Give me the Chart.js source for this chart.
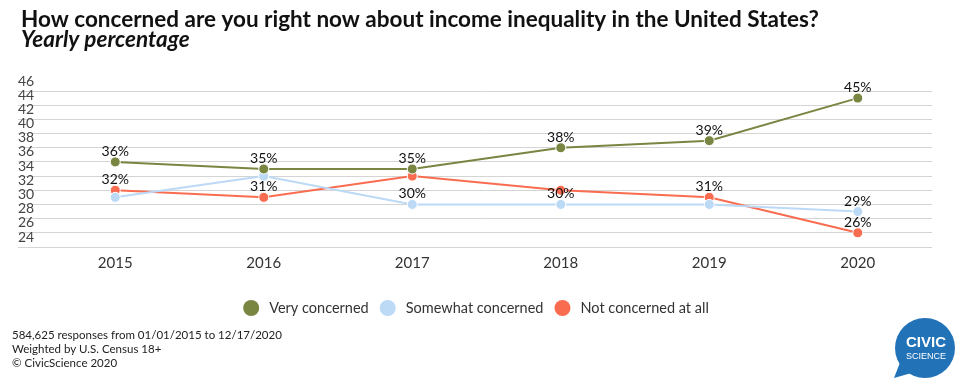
<!DOCTYPE html>
<html>
<head>
<meta charset="utf-8">
<script src="https://cdn.jsdelivr.net/npm/chart.js@4.4.0/dist/chart.umd.min.js"></script>
<style>
  html, body { margin: 0; padding: 0; background: #fff; }
  #wrap { width: 962px; height: 389px; position: relative; }
</style>
</head>
<body>
<div id="wrap"><canvas id="chart" width="962" height="389"></canvas></div>
<script>
const years = ['2015', '2016', '2017', '2018', '2019', '2020'];
const veryConcerned = [36, 35, 35, 38, 39, 45];
const somewhatConcerned = [31, 34, 30, 30, 30, 29];
const notConcerned = [32, 31, 34, 32, 31, 26];
const yMin = 24;
const yMax = 46;
const yStep = 2;

// labels the original hid where they collided
const hiddenLabels = {
    'Somewhat concerned': ['2015', '2016', '2019'],
    'Not concerned at all': ['2017', '2018']
};

const titleText = 'How concerned are you right now about income inequality in the United States?';
const subtitleText = 'Yearly percentage';
const footerLines = [
    '584,625 responses from 01/01/2015 to 12/17/2020',
    'Weighted by U.S. Census 18+',
    '\u00A9 CivicScience 2020'
];

const FONT = 'Lato, "Noto Sans", sans-serif';

// title, footer, logo
const decorPlugin = {
    id: 'decor',
    afterDraw(chart) {
        const ctx = chart.ctx;
        ctx.save();
        ctx.fillStyle = '#111';
        ctx.textAlign = 'left';
        ctx.textBaseline = 'alphabetic';
        ctx.font = 'bold 22.5px ' + FONT;
        ctx.fillText(titleText, 21, 27);
        ctx.font = 'italic bold 22.5px ' + FONT;
        ctx.fillText(subtitleText, 21, 47);

        ctx.fillStyle = '#222';
        ctx.font = '11.5px ' + FONT;
        footerLines.forEach((line, i) => {
            ctx.fillText(line, 12, 339 + i * 14);
        });

        // logo bubble
        const cx = 925, cy = 348, r = 30;
        ctx.fillStyle = '#2272b8';
        ctx.beginPath();
        ctx.arc(cx, cy, r, 0, Math.PI * 2);
        ctx.fill();
        ctx.beginPath();
        ctx.moveTo(cx - 24, cy + 12);
        ctx.lineTo(cx - 31, cy + 30);
        ctx.lineTo(cx - 10, cy + 24);
        ctx.closePath();
        ctx.fill();
        ctx.fillStyle = '#fff';
        ctx.textAlign = 'center';
        ctx.font = 'bold 15px "Liberation Sans", Arial, sans-serif';
        ctx.fillText('CIVIC', cx + 1, cy - 1);
        ctx.font = '9px "Liberation Sans", Arial, sans-serif';
        ctx.fillText('SCIENCE', cx + 1, cy + 11);
        ctx.restore();
    }
};

// custom legend centred under the axis
const legendPlugin = {
    id: 'dotLegend',
    afterDraw(chart) {
        const ctx = chart.ctx;
        ctx.save();
        ctx.font = '14.5px ' + FONT;
        ctx.textBaseline = 'middle';
        ctx.textAlign = 'left';
        const r = 8, gapText = 10, gapItem = 11;
        const items = chart.data.datasets.map(ds => ({
            label: ds.label,
            color: ds.borderColor,
            w: ctx.measureText(ds.label).width
        }));
        let total = 0;
        items.forEach((it, i) => {
            total += r * 2 + gapText + it.w + (i < items.length - 1 ? gapItem : 0);
        });
        let x = 476 - total / 2;
        const y = 308;
        items.forEach(it => {
            ctx.fillStyle = it.color;
            ctx.beginPath();
            ctx.arc(x + r, y, r, 0, Math.PI * 2);
            ctx.fill();
            ctx.fillStyle = '#333';
            ctx.fillText(it.label, x + r * 2 + gapText, y);
            x += r * 2 + gapText + it.w + gapItem;
        });
        ctx.restore();
    }
};

// value labels above points
const valueLabelPlugin = {
    id: 'valueLabels',
    afterDatasetsDraw(chart) {
        const ctx = chart.ctx;
        ctx.save();
        ctx.font = '14px ' + FONT;
        ctx.fillStyle = '#111';
        ctx.textAlign = 'center';
        ctx.textBaseline = 'alphabetic';
        chart.data.datasets.forEach((ds, di) => {
            const meta = chart.getDatasetMeta(di);
            const hide = hiddenLabels[ds.label] || [];
            meta.data.forEach((pt, i) => {
                if (hide.includes(chart.data.labels[i])) return;
                ctx.fillText(ds.data[i] + '%', pt.x, pt.y - 6);
            });
        });
        ctx.restore();
    }
};

function lineSet(label, data, color) {
    return {
        label: label,
        data: data,
        borderColor: color,
        backgroundColor: color,
        borderWidth: 2,
        pointRadius: 5,
        pointHoverRadius: 5,
        pointBorderColor: '#fff',
        pointBorderWidth: 1,
        pointBackgroundColor: color,
        tension: 0
    };
}

const ctx = document.getElementById('chart').getContext('2d');
new Chart(ctx, {
    type: 'line',
    data: {
        labels: years,
        datasets: [
            lineSet('Very concerned', veryConcerned, '#788642'),
            lineSet('Somewhat concerned', somewhatConcerned, '#bcd9f5'),
            lineSet('Not concerned at all', notConcerned, '#fa6c50')
        ]
    },
    options: {
        responsive: false,
        animation: false,
        events: [],
        layout: {
            padding: { top: 91, left: 18, right: 30, bottom: 112 }
        },
        plugins: {
            legend: { display: false },
            title: { display: false },
            tooltip: { enabled: false }
        },
        scales: {
            x: {
                offset: true,
                grid: { display: false, drawTicks: false },
                border: { display: false },
                ticks: {
                    color: '#333',
                    font: { family: FONT, size: 15 },
                    padding: 7,
                    maxRotation: 0
                },
                afterFit(scale) { scale.height = 30; }
            },
            y: {
                min: yMin,
                max: yMax,
                grid: {
                    color: '#d4d4d4',
                    lineWidth: 1,
                    drawTicks: true,
                    tickLength: 23
                },
                border: { display: false },
                ticks: {
                    stepSize: yStep,
                    autoSkip: false,
                    color: '#444',
                    font: { family: FONT, size: 14 },
                    crossAlign: 'far',
                    labelOffset: -10,
                    padding: 0
                },
                afterFit(scale) { scale.width = 23; }
            }
        }
    },
    plugins: [valueLabelPlugin, legendPlugin, decorPlugin]
});
</script>
</body>
</html>
